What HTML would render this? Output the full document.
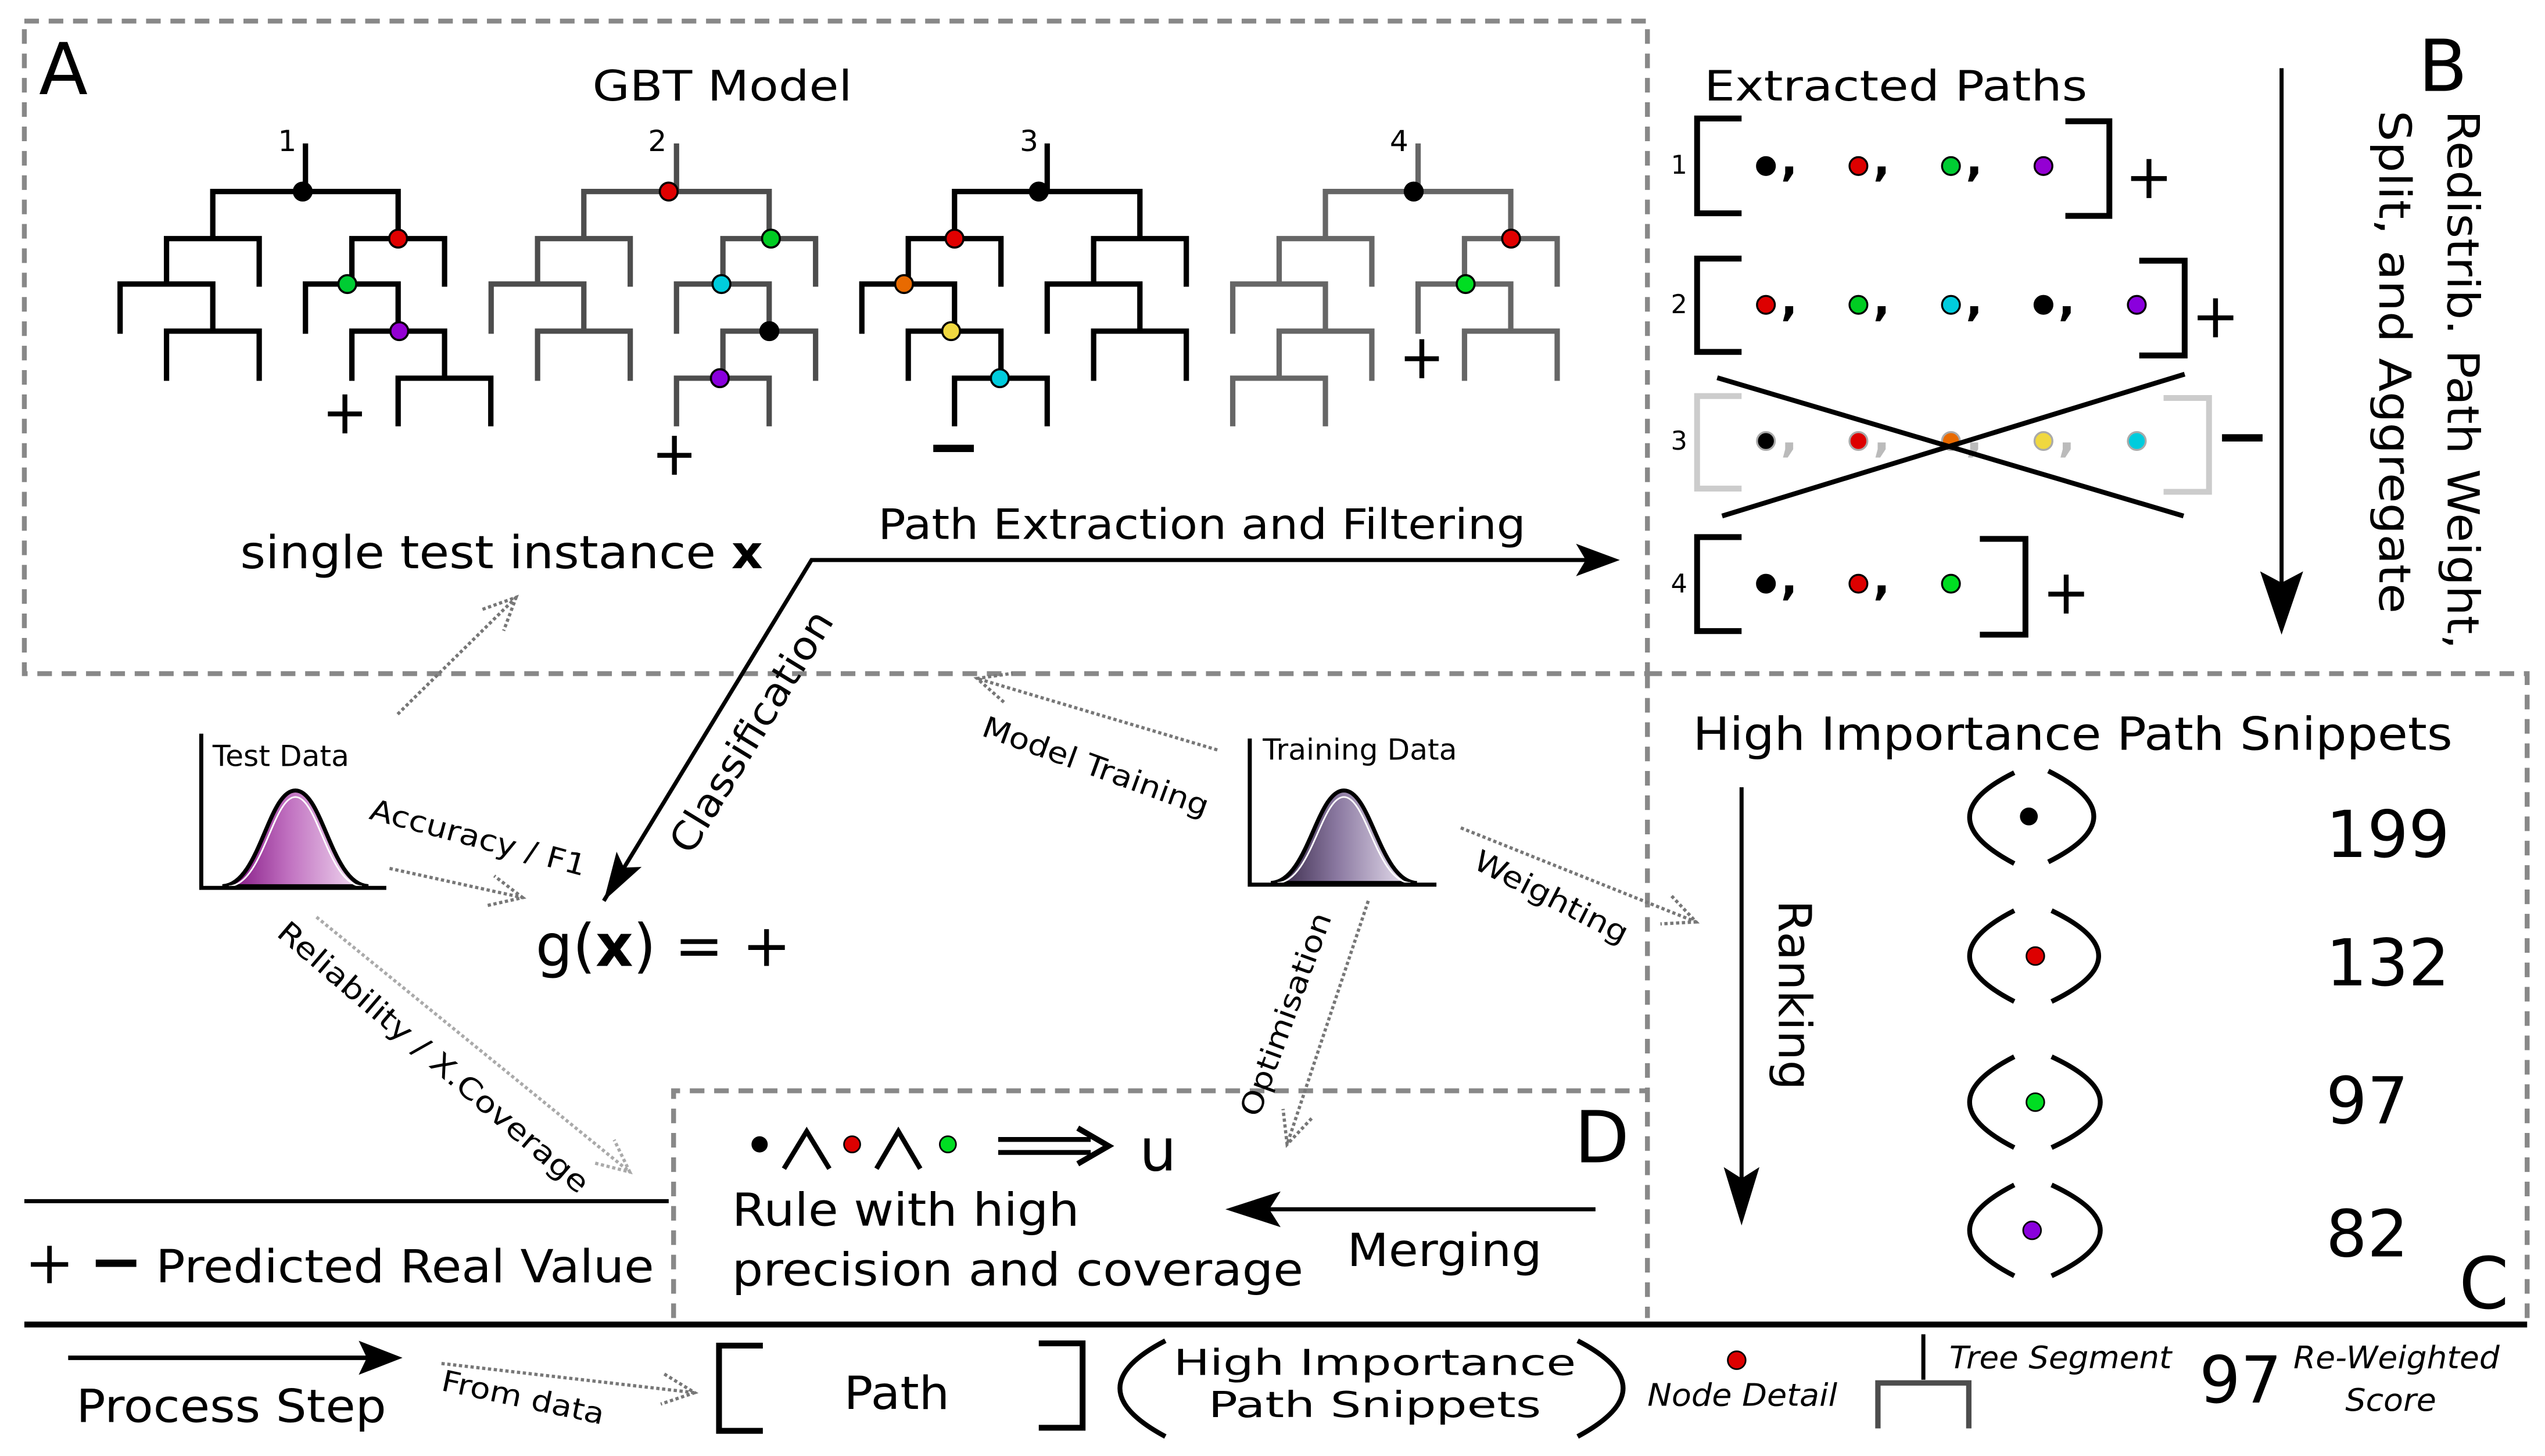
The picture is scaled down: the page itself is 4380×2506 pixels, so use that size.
<!DOCTYPE html>
<html><head><meta charset="utf-8"><style>
html,body{margin:0;padding:0;background:#fff;}
svg{display:block;}
text{font-family:"DejaVu Sans","Liberation Sans",sans-serif;fill:#000;}
</style></head><body>
<svg xmlns="http://www.w3.org/2000/svg" width="4380" height="2506" viewBox="0 0 1568 897" preserveAspectRatio="none">
<defs>
<linearGradient id="gT" x1="0" x2="1" y1="0" y2="0"><stop offset="0" stop-color="#7a0a7a"/><stop offset="0.45" stop-color="#c070c0"/><stop offset="1" stop-color="#f6e6f6"/></linearGradient>
<linearGradient id="gR" x1="0" x2="1" y1="0" y2="0"><stop offset="0" stop-color="#2e1f3e"/><stop offset="0.45" stop-color="#8a78a0"/><stop offset="1" stop-color="#f2ecf8"/></linearGradient>
</defs>
<rect width="1568" height="897" fill="#fff"/>

<g fill="none" stroke="#888" stroke-width="3" stroke-dasharray="9 6">
<rect x="15" y="13" width="1000" height="402"/>
<path d="M1015 415 H1557 V812 M1015 415 V812"/>
<path d="M415 812 V672 H1015"/>
</g>
<line x1="15" y1="816" x2="1557" y2="816" stroke="#000" stroke-width="3.6"/>
<line x1="15" y1="740" x2="412" y2="740" stroke="#000" stroke-width="2.5"/>

<text x="24" y="58" font-size="44">A</text>
<text x="1490" y="56" font-size="44">B</text>
<text x="1515" y="806" font-size="44">C</text>
<text x="970" y="716" font-size="44">D</text>

<text x="365" y="62" font-size="26" textLength="160" lengthAdjust="spacingAndGlyphs">GBT Model</text>

<g fill="none" stroke-width="3.3" stroke-linecap="square">
<path stroke="#000" d="M188.2 90V118M131.1 118H245.3M131.1 118V147M245.3 118V147M102.6 147H159.7M102.6 147V175M159.7 147V175M74 175H131.1M74 175V204M131.1 175V204M102.6 204H159.7M102.6 204V233M159.7 204V233M216.8 147H273.9M273.9 147V175M216.8 147V175M188.2 175H245.3M188.2 175V204M245.3 175V204M216.8 204H273.9M216.8 204V233M273.9 204V233M245.3 233H302.4M245.3 233V261M302.4 233V261"/>
<path stroke="#4d4d4d" d="M416.8 90V118M359.7 118H473.9M359.7 118V147M473.9 118V147M331.2 147H388.3M331.2 147V175M388.3 147V175M302.6 175H359.7M302.6 175V204M359.7 175V204M331.2 204H388.3M331.2 204V233M388.3 204V233M445.4 147H502.5M502.5 147V175M445.4 147V175M416.8 175H473.9M416.8 175V204M473.9 175V204M445.4 204H502.5M502.5 204V233M445.4 204V233M416.8 233H473.9M416.8 233V261M473.9 233V261"/>
<path stroke="#000" d="M645.2 90V118M588.1 118H702.3M588.1 118V147M702.3 118V147M559.6 147H616.7M616.7 147V175M559.6 147V175M531 175H588.1M531 175V204M588.1 175V204M559.6 204H616.7M559.6 204V233M616.7 204V233M588.1 233H645.2M588.1 233V261M645.2 233V261M673.8 147H730.9M730.9 147V175M673.8 147V175M645.2 175H702.3M645.2 175V204M702.3 175V204M673.8 204H730.9M673.8 204V233M730.9 204V233"/>
<path stroke="#666" d="M873.7 90V118M816.6 118H930.8M816.6 118V147M930.8 118V147M788.1 147H845.2M845.2 147V175M788.1 147V175M759.5 175H816.6M759.5 175V204M816.6 175V204M788.1 204H845.2M845.2 204V233M788.1 204V233M759.5 233H816.6M759.5 233V261M816.6 233V261M902.3 147H959.4M959.4 147V175M902.3 147V175M873.7 175H930.8M873.7 175V204M930.8 175V204M902.3 204H959.4M902.3 204V233M959.4 204V233"/>
</g>
<g stroke="#000" stroke-width="1.3">
<circle cx="186.5" cy="118" r="5.5" fill="#000"/><circle cx="245.3" cy="147" r="5.5" fill="#e00000"/><circle cx="214" cy="175" r="5.5" fill="#00cc33"/><circle cx="246" cy="204" r="5.5" fill="#9400d3"/>
<circle cx="412" cy="118" r="5.5" fill="#e00000"/><circle cx="475" cy="147" r="5.5" fill="#00cc22"/><circle cx="444.5" cy="175" r="5.5" fill="#00ccdd"/><circle cx="474" cy="204" r="5.5" fill="#000"/><circle cx="443.5" cy="233" r="5.5" fill="#8a00dd"/>
<circle cx="640" cy="118" r="5.5" fill="#000"/><circle cx="588.1" cy="147" r="5.5" fill="#e00000"/><circle cx="557" cy="175" r="5.5" fill="#e86a00"/><circle cx="586" cy="204" r="5.5" fill="#f0d840"/><circle cx="616" cy="233" r="5.5" fill="#00ccdd"/>
<circle cx="871" cy="118" r="5.5" fill="#000"/><circle cx="931" cy="147" r="5.5" fill="#e00000"/><circle cx="903" cy="175" r="5.5" fill="#00dd22"/>
</g>
<g font-size="18" text-anchor="middle"><text x="177" y="93">1</text><text x="405" y="93">2</text><text x="634" y="93">3</text><text x="862" y="93">4</text></g>
<g stroke="#000" stroke-width="3">
<path d="M202 255H223M212.5 243V267"/><path d="M405 280.5H426M415.5 268.5V292.5"/><path d="M865.5 221H886.5M876 209V233"/>
</g>
<rect x="575" y="274" width="25" height="4.5" fill="#000"/>

<text x="1050" y="62" font-size="26" textLength="236" lengthAdjust="spacingAndGlyphs">Extracted Paths</text>
<g font-size="16" text-anchor="middle"><text x="1034.5" y="107">1</text><text x="1034.5" y="193">2</text><text x="1034.5" y="277">3</text><text x="1034.5" y="365">4</text></g>
<g fill="none" stroke="#000" stroke-width="3.6">
<path d="M1073 73H1045.6V131.4H1073M1272.5 74.7H1299.6V133H1272.5"/>
<path d="M1073 159.3H1045.6V216.8H1073M1318 160.6H1346V219H1318"/>
<path d="M1073 330.9H1045.6V388.8H1073M1219.8 332H1247.9V391H1219.8"/>
<path stroke="#cccccc" d="M1073 244H1045.6V301H1073M1333 245.2H1361V303H1333"/>
</g>
<g stroke="#000" stroke-width="1.2">
<circle cx="1088" cy="102.3" r="5.5" fill="#000"/><circle cx="1145" cy="102.3" r="5.5" fill="#dd0000"/><circle cx="1202" cy="102.3" r="5.5" fill="#00cc33"/><circle cx="1259" cy="102.3" r="5.5" fill="#9400d3"/>
<circle cx="1088" cy="187.8" r="5.5" fill="#dd0000"/><circle cx="1145" cy="187.8" r="5.5" fill="#00cc22"/><circle cx="1202" cy="187.8" r="5.5" fill="#00ccdd"/><circle cx="1259" cy="187.8" r="5.5" fill="#000"/><circle cx="1316.5" cy="187.8" r="5.5" fill="#8a00dd"/>
<circle cx="1088" cy="359.6" r="5.5" fill="#000"/><circle cx="1145" cy="359.6" r="5.5" fill="#dd0000"/><circle cx="1202" cy="359.6" r="5.5" fill="#00dd22"/>
</g>
<g stroke="#aaa" stroke-width="1.2">
<circle cx="1088" cy="271.7" r="5.5" fill="#000"/><circle cx="1145" cy="271.7" r="5.5" fill="#dd0000"/><circle cx="1202" cy="271.7" r="5.5" fill="#e86a00"/><circle cx="1259" cy="271.7" r="5.5" fill="#f0d840"/><circle cx="1316.5" cy="271.7" r="5.5" fill="#00ccdd"/>
</g>
<g font-size="28" font-weight="bold">
<text x="1097" y="108">,</text><text x="1154" y="108">,</text><text x="1211" y="108">,</text>
<text x="1097" y="194">,</text><text x="1154" y="194">,</text><text x="1211" y="194">,</text><text x="1268" y="194">,</text>
<text x="1097" y="366">,</text><text x="1154" y="366">,</text>
<text x="1097" y="278" style="fill:#bbb">,</text><text x="1154" y="278" style="fill:#bbb">,</text><text x="1211" y="278" style="fill:#bbb">,</text><text x="1268" y="278" style="fill:#bbb">,</text>
</g>
<g stroke="#000" stroke-width="3">
<path d="M1313 110H1335M1324 98V122"/><path d="M1354 195.8H1376M1365 183.8V207.8"/><path d="M1262 366H1284M1273 354V378"/>
<line x1="1058" y1="232.7" x2="1345.3" y2="317.9"/><line x1="1061" y1="317.9" x2="1346" y2="230.5"/>
</g>
<rect x="1369" y="267.5" width="25" height="4.5" fill="#000"/>
<line x1="1405.7" y1="42" x2="1405.7" y2="362" stroke="#000" stroke-width="2.5"/>
<polygon points="1405.7,391 1392.5,352 1405.7,359 1419,352" fill="#000"/>
<text x="1508" y="68" font-size="27" transform="rotate(90 1508 68)" textLength="332" lengthAdjust="spacingAndGlyphs">Redistrib. Path Weight,</text>
<text x="1466" y="68" font-size="27" transform="rotate(90 1466 68)" textLength="310" lengthAdjust="spacingAndGlyphs">Split, and Aggregate</text>

<text x="148" y="350" font-size="28" textLength="322" lengthAdjust="spacingAndGlyphs">single test instance <tspan font-weight="bold">x</tspan></text>
<text x="541" y="332" font-size="26" textLength="399" lengthAdjust="spacingAndGlyphs">Path Extraction and Filtering</text>
<polyline points="372,555 500,345 978,345" fill="none" stroke="#000" stroke-width="2.5"/>
<polygon points="998,345 971,335 977,345 971,355" fill="#000"/>
<polygon points="372,555 395.3,534.1 384.5,534.5 379.9,524.7" fill="#000"/>
<text x="0" y="0" font-size="24" text-anchor="middle" textLength="170" lengthAdjust="spacingAndGlyphs" transform="translate(470,455) rotate(-58.6)">Classification</text>
<text x="330" y="595" font-size="36">g(<tspan font-weight="bold">x</tspan>) = +</text>

<g>
<path d="M137 546 C160 545 165 487 182 487 C199 487 204 545 227 546 Z" fill="url(#gT)" stroke="#000" stroke-width="2.5"/>
<path d="M141 546 C162 545 168 491 182 491 C196 491 202 545 223 546" fill="none" stroke="#fff" stroke-width="1"/>
<path d="M124 452 V547 H238" fill="none" stroke="#000" stroke-width="2.5"/>
<text x="131" y="472" font-size="18">Test Data</text>
<path d="M783 544 C806 543 811 487 828 487 C845 487 850 543 873 544 Z" fill="url(#gR)" stroke="#000" stroke-width="2.5"/>
<path d="M787 544 C808 543 814 491 828 491 C842 491 848 543 869 544" fill="none" stroke="#fff" stroke-width="1"/>
<path d="M770 455 V545 H885" fill="none" stroke="#000" stroke-width="2.5"/>
<text x="778" y="468" font-size="18">Training Data</text>
</g>

<g fill="none" stroke="#777" stroke-width="2" stroke-dasharray="2 1.6">
<path d="M245 440 L318 368 M297.3 375.4 L318 368 L310.3 388.6"/>
<path d="M240 535 L322 553 M300.5 557.8 L322 553 L304.5 539.6"/>
<path d="M750 462 L602 418 M618.5 432.6 L602 418 L623.8 414.8"/>
<path d="M900 510 L1045 568 M1029.9 552 L1045 568 L1023 569.2"/>
<path d="M843 555 L793 705 M808.1 689 L793 705 L790.5 683.2"/>
<path d="M272 840 L428 858 M409.3 846.5 L428 858 L407.1 865"/>
<path stroke="#aaa" d="M195 565 L388 722 M366.7 716.6 L388 722 L378.4 702.2"/>
</g>
<g font-size="18" text-anchor="middle">
<text transform="translate(293,522) rotate(15)" textLength="137" lengthAdjust="spacingAndGlyphs">Accuracy / F1</text>
<text transform="translate(263,656) rotate(40.6)" textLength="246" lengthAdjust="spacingAndGlyphs">Reliability / X.Coverage</text>
<text transform="translate(673,478) rotate(20)" textLength="147" lengthAdjust="spacingAndGlyphs">Model Training</text>
<text transform="translate(953,558) rotate(27)" textLength="104" lengthAdjust="spacingAndGlyphs">Weighting</text>
<text transform="translate(798,627) rotate(-70)" textLength="132" lengthAdjust="spacingAndGlyphs">Optimisation</text>
<text transform="translate(321,867) rotate(12)" textLength="102" lengthAdjust="spacingAndGlyphs">From data</text>
</g>

<circle cx="468" cy="705" r="5" fill="#000"/>
<circle cx="525" cy="705" r="5" fill="#dd0000" stroke="#000" stroke-width="1"/>
<circle cx="584" cy="705" r="5" fill="#00dd22" stroke="#000" stroke-width="1"/>
<g fill="none" stroke="#000" stroke-width="3">
<polyline points="483,720 497,697 511,720"/><polyline points="540,720 553.5,697 567,720"/>
<path d="M615 702H672M615 710H672"/><polyline points="664,695 683,706 664,717" stroke-width="3.5"/>
</g>
<text x="702" y="721" font-size="36">u</text>
<text x="451" y="755" font-size="28" textLength="214" lengthAdjust="spacingAndGlyphs">Rule with high</text>
<text x="451" y="792" font-size="28" textLength="352" lengthAdjust="spacingAndGlyphs">precision and coverage</text>
<line x1="983" y1="745" x2="780" y2="745" stroke="#000" stroke-width="2.5"/>
<polygon points="755,745 789,734 782,745 789,756" fill="#000"/>
<text x="830" y="780" font-size="28" textLength="120" lengthAdjust="spacingAndGlyphs">Merging</text>
<path d="M19 779H42M30.5 767.5V790.5" stroke="#000" stroke-width="2.8" fill="none"/>
<rect x="59" y="776" width="25" height="4.5" fill="#000"/>
<text x="96" y="790" font-size="28" textLength="307" lengthAdjust="spacingAndGlyphs">Predicted Real Value</text>

<text x="1043" y="462" font-size="28" textLength="468" lengthAdjust="spacingAndGlyphs">High Importance Path Snippets</text>
<line x1="1073" y1="485" x2="1073" y2="728" stroke="#000" stroke-width="2.5"/>
<polygon points="1073,755 1062,719 1073,726 1084,719" fill="#000"/>
<text x="1096" y="613" font-size="28" text-anchor="middle" transform="rotate(90 1096 613)" textLength="117" lengthAdjust="spacingAndGlyphs">Ranking</text>
<g fill="none" stroke="#000" stroke-width="3">
<path d="M1241 476 Q1186 503 1241 532 M1262 475 Q1318 503 1262 531"/>
<path d="M1241 561 Q1186 589 1241 617 M1264 561 Q1322 589 1264 617"/>
<path d="M1241 651 Q1186 679 1241 707 M1264 651 Q1324 679 1264 707"/>
<path d="M1241 730 Q1186 758 1241 786 M1264 730 Q1324 758 1264 786"/>
</g>
<circle cx="1250" cy="503" r="5.5" fill="#000"/>
<circle cx="1254" cy="589" r="5.5" fill="#dd0000" stroke="#000" stroke-width="1"/>
<circle cx="1254" cy="679" r="5.5" fill="#00dd22" stroke="#000" stroke-width="1"/>
<circle cx="1252" cy="758" r="5.5" fill="#8a00dd" stroke="#000" stroke-width="1"/>
<g font-size="40">
<text x="1433" y="528">199</text><text x="1433" y="607">132</text><text x="1433" y="692">97</text><text x="1433" y="774">82</text>
</g>

<line x1="42" y1="836.5" x2="226" y2="836.5" stroke="#000" stroke-width="2.8"/>
<polygon points="248,836.5 221,826 226,836.5 221,847" fill="#000"/>
<text x="47" y="876" font-size="28" textLength="191" lengthAdjust="spacingAndGlyphs">Process Step</text>
<g fill="none" stroke="#000" stroke-width="3.6">
<path d="M470 829H443V881.5H470M640 827.6H667V879.6H640"/>
</g>
<text x="520" y="868" font-size="28" textLength="65" lengthAdjust="spacingAndGlyphs">Path</text>
<g fill="none" stroke="#000" stroke-width="3">
<path d="M718 826 Q662 855 718 885 M972 826 Q1028 855 972 885"/>
</g>
<text x="847" y="847" font-size="22" text-anchor="middle" textLength="248" lengthAdjust="spacingAndGlyphs">High Importance</text>
<text x="847" y="873" font-size="22" text-anchor="middle" textLength="205" lengthAdjust="spacingAndGlyphs">Path Snippets</text>
<circle cx="1070" cy="838" r="5.5" fill="#dd0000" stroke="#000" stroke-width="1"/>
<text x="1015" y="866" font-size="19" font-style="italic" textLength="117" lengthAdjust="spacingAndGlyphs">Node Detail</text>
<line x1="1185" y1="822" x2="1185" y2="850" stroke="#000" stroke-width="2.5"/>
<path d="M1157 880V852H1213V880" fill="none" stroke="#4d4d4d" stroke-width="3.3"/>
<text x="1201" y="843" font-size="19" font-style="italic" textLength="137" lengthAdjust="spacingAndGlyphs">Tree Segment</text>
<text x="1355" y="864" font-size="40">97</text>
<text x="1413" y="843" font-size="19" font-style="italic" textLength="127" lengthAdjust="spacingAndGlyphs">Re-Weighted</text>
<text x="1473" y="869" font-size="19" font-style="italic" text-anchor="middle" textLength="56" lengthAdjust="spacingAndGlyphs">Score</text>
</svg>
</body></html>
